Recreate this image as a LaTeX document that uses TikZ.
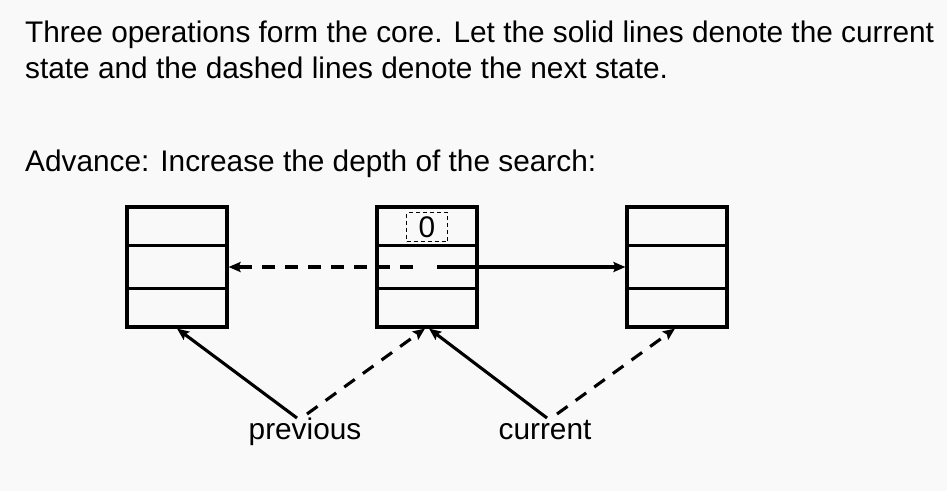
\documentclass[tikz,border=0pt]{standalone}
\usepackage{fontspec}
\setmainfont{Liberation Sans}
\usetikzlibrary{arrows.meta}
\definecolor{bg}{RGB}{249,249,249}
\begin{document}
\begin{tikzpicture}[x=1pt,y=-1pt,
  txt/.style={anchor=base west,inner sep=0pt,font=\fontsize{29.8}{36}\selectfont},
  lbl/.style={anchor=base,inner sep=0pt,font=\fontsize{29.8}{36}\selectfont},
  stack/.style={draw,line width=3.1pt,minimum width=100pt,minimum height=120pt,inner sep=0pt},
  row/.style={line width=3.1pt},
  arr/.style={line width=3.1pt,-{Stealth[length=12pt,width=10pt,inset=2pt]}},
  dsh/.style={dash pattern=on 13pt off 10pt},
  zbox/.style={draw,line width=1.2pt,dash pattern=on 4pt off 3pt,minimum width=41pt,minimum height=29pt,inner sep=0pt,font=\fontsize{29.8}{36}\selectfont}]
\fill[bg] (0,0) rectangle (947,491);
\useasboundingbox (0,0) rectangle (947,491);

\node[txt] (t1) at (25,42) {Three operations form the core. Let the solid lines denote the current};
\node[txt] (t2) at (25,78) {state and the dashed lines denote the next state.};
\node[txt] (t3) at (25,171) {Advance: Increase the depth of the search:};

\node[stack] (L) at (177,267) {};
\node[stack] (M) at (427,267) {};
\node[stack] (R) at (677,267) {};
\foreach \b in {L,M,R}{
  \draw[row] ([yshift=-40pt]\b.north west) -- ([yshift=-40pt]\b.north east);
  \draw[row] ([yshift=40pt]\b.south west) -- ([yshift=40pt]\b.south east);
}
\node[zbox] (z) at (427,227) {0};

\coordinate (ms) at (413,267);
\coordinate (me) at (437,267);
\draw[arr,dsh] (ms) -- (L.east);
\draw[arr] (me) -- (R.west);

\node[lbl] (prev) at (305,439) {previous};
\node[lbl] (cur) at (545,439) {current};
\coordinate (p1) at (297,418);
\coordinate (p2) at (307,414);
\coordinate (c1) at (547,418);
\coordinate (c2) at (557,414);
\draw[arr] (p1) -- (L.south);
\draw[arr,dsh] (p2) -- ([xshift=-2pt]M.south);
\draw[arr] (c1) -- ([xshift=2pt]M.south);
\draw[arr,dsh] (c2) -- ([xshift=-2pt]R.south);
\end{tikzpicture}
\end{document}
